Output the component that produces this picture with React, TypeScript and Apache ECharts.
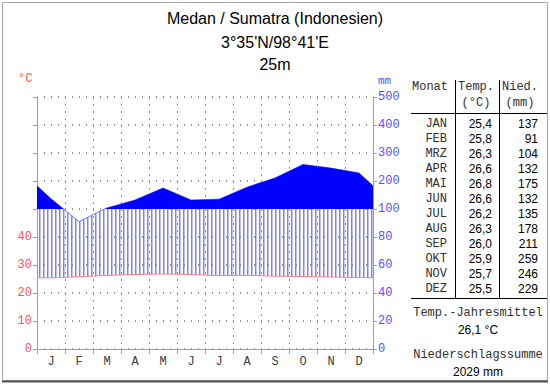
import React, { useEffect, useRef } from 'react';
import * as echarts from 'echarts';

const monthLetters = ['J', 'F', 'M', 'A', 'M', 'J', 'J', 'A', 'S', 'O', 'N', 'D'];
const monthNames = ['JAN', 'FEB', 'MRZ', 'APR', 'MAI', 'JUN', 'JUL', 'AUG', 'SEP', 'OKT', 'NOV', 'DEZ'];
const temperature = [25.4, 25.8, 26.3, 26.6, 26.8, 26.6, 26.2, 26.3, 26.0, 25.9, 25.7, 25.5];
const precipitation = [137, 91, 104, 132, 175, 132, 135, 178, 211, 259, 246, 229];
const titleLines = ['Medan / Sumatra (Indonesien)', "3°35'N/98°41'E", '25m'];
const annualMeanTemp = '26,1 °C';
const annualPrecip = '2029 mm';

const MONO = '"Liberation Mono", "DejaVu Sans Mono", monospace';
const SANS = '"Liberation Sans", Arial, sans-serif';
const HATCH = '#8080ff';

const mmToUnit = (p: number) => (p <= 100 ? p / 2 : 50 + (p - 100) / 10);
const unitToMm = (u: number) => (u <= 50 ? u * 2 : 100 + (u - 50) * 10);
const fmt = (v: number) => v.toFixed(1).replace('.', ',');

// points at month centres, wrapped to the plot edges (Dec/Jan average)
const edgeT = (temperature[11] + temperature[0]) / 2;
const edgeP = (mmToUnit(precipitation[11]) + mmToUnit(precipitation[0])) / 2;
const tempPts: number[][] = [[0, edgeT], ...temperature.map((t, i) => [i + 0.5, t]), [12, edgeT]];
const precPts: number[][] = [[0, edgeP], ...precipitation.map((p, i) => [i + 0.5, mmToUnit(p)]), [12, edgeP]];

function interp(pts: number[][], x: number): number {
  for (let i = 1; i < pts.length; i++) {
    const [x0, y0] = pts[i - 1];
    const [x1, y1] = pts[i];
    if (x >= x0 && x <= x1) {
      const t = (x - x0) / (x1 - x0);
      return y0 + t * (y1 - y0);
    }
  }
  return pts[pts.length - 1][1];
}

export default function App() {
  const ref = useRef<HTMLDivElement>(null);
  useEffect(() => {
    if (!ref.current) return;
    const chart = echarts.init(ref.current, undefined, { renderer: 'svg' });

    const renderItem = (params: any, api: any) => {
      const children: any[] = [];
      const base = 50;
      const p0 = api.coord([0, 0]);
      const p1 = api.coord([12, 0]);
      for (let px = Math.round(p0[0]) + 2; px < p1[0] - 0.5; px += 4) {
        const xv = ((px + 0.5 - p0[0]) / (p1[0] - p0[0])) * 12;
        const t = interp(tempPts, xv);
        const top = Math.min(interp(precPts, xv), base);
        if (top > t) {
          const a = api.coord([xv, t]);
          const b = api.coord([xv, top]);
          children.push({
            type: 'rect',
            shape: { x: px, y: b[1], width: 1.5, height: a[1] - b[1] },
            style: { fill: HATCH, stroke: null, lineWidth: 0, opacity: 1 },
          });
        }
      }
      const poly: number[][] = [];
      for (let i = 0; i < precPts.length; i++) {
        const [x, y] = precPts[i];
        if (i > 0) {
          const [x0, y0] = precPts[i - 1];
          if ((y0 - base) * (y - base) < 0) {
            const t = (base - y0) / (y - y0);
            poly.push([x0 + t * (x - x0), base]);
          }
        }
        poly.push([x, Math.max(y, base)]);
      }
      poly.push([12, base]);
      poly.push([0, base]);
      children.push({
        type: 'polygon',
        shape: { points: poly.map((p) => api.coord(p)) },
        style: { fill: '#0000ff', stroke: null, lineWidth: 0 },
      });
      return { type: 'group', children };
    };

    const graphic: any[] = [
      { type: 'rect', shape: { x: 2.5, y: 2.5, width: 545, height: 378 }, style: { fill: 'none', stroke: '#a8a8a8', lineWidth: 1 }, z: 10 },
      { type: 'line', shape: { x1: 2, y1: 381.5, x2: 548, y2: 381.5 }, style: { stroke: '#505050', lineWidth: 2 }, z: 10 },
    ];
    titleLines.forEach((t, i) => {
      graphic.push({
        type: 'text', x: 275, y: [18, 42, 64][i],
        style: { text: t, textAlign: 'center', textVerticalAlign: 'middle', font: `16px ${SANS}`, fill: '#000' },
      });
    });
    graphic.push({ type: 'text', x: 18, y: 79, style: { text: '°C', textVerticalAlign: 'middle', font: `12px ${MONO}`, fill: '#ff5050' } });
    graphic.push({ type: 'text', x: 378, y: 81, style: { text: 'mm', textVerticalAlign: 'middle', font: `11px ${MONO}`, fill: '#5050ff' } });
    const hdr = (text: string, x: number, y: number) => ({
      type: 'text', x, y, style: { text, textAlign: 'center', textVerticalAlign: 'middle', font: `12px ${MONO}`, fill: '#303030' },
    });
    graphic.push(hdr('Monat', 430, 87), hdr('Temp.', 476, 87), hdr('(°C)', 476, 103), hdr('Nied.', 520, 87), hdr('(mm)', 520, 103));
    graphic.push(
      { type: 'line', shape: { x1: 455.5, y1: 80, x2: 455.5, y2: 298 }, style: { stroke: '#000', lineWidth: 1 } },
      { type: 'line', shape: { x1: 499.5, y1: 80, x2: 499.5, y2: 298 }, style: { stroke: '#000', lineWidth: 1 } },
      { type: 'line', shape: { x1: 411, y1: 113.5, x2: 547, y2: 113.5 }, style: { stroke: '#000', lineWidth: 1 } },
      { type: 'line', shape: { x1: 411, y1: 298.5, x2: 547, y2: 298.5 }, style: { stroke: '#000', lineWidth: 1 } },
    );
    monthNames.forEach((m, i) => {
      const y = 124 + i * 15;
      graphic.push({ type: 'text', x: 447, y, style: { text: m, textAlign: 'right', textVerticalAlign: 'middle', font: `12px ${MONO}`, fill: '#303030' } });
      graphic.push({ type: 'text', x: 492, y, style: { text: fmt(temperature[i]), textAlign: 'right', textVerticalAlign: 'middle', font: `12px ${SANS}`, fill: '#000' } });
      graphic.push({ type: 'text', x: 538, y, style: { text: String(precipitation[i]), textAlign: 'right', textVerticalAlign: 'middle', font: `12px ${SANS}`, fill: '#000' } });
    });
    graphic.push(
      { type: 'text', x: 478, y: 313, style: { text: 'Temp.-Jahresmittel', textAlign: 'center', textVerticalAlign: 'middle', font: `12px ${MONO}`, fill: '#303030' } },
      { type: 'text', x: 478, y: 330, style: { text: annualMeanTemp, textAlign: 'center', textVerticalAlign: 'middle', font: `12px ${SANS}`, fill: '#000' } },
      { type: 'text', x: 478, y: 355, style: { text: 'Niederschlagssumme', textAlign: 'center', textVerticalAlign: 'middle', font: `12px ${MONO}`, fill: '#303030' } },
      { type: 'text', x: 478, y: 372, style: { text: annualPrecip, textAlign: 'center', textVerticalAlign: 'middle', font: `12px ${SANS}`, fill: '#000' } },
    );

    const axisGray = '#a0a0a0';
    chart.setOption({
      animation: false,
      backgroundColor: '#ffffff',
      grid: { left: 37, right: 177, top: 97, bottom: 35 },
      xAxis: [
        {
          type: 'category', data: monthLetters, boundaryGap: true,
          axisLine: { show: true, lineStyle: { color: axisGray } },
          axisTick: { show: true, interval: 0, length: 5, lineStyle: { color: axisGray } },
          axisLabel: { interval: 0, color: '#404040', fontFamily: MONO, fontSize: 12, margin: 7 },
          splitLine: { show: true, interval: 0, lineStyle: { color: '#909090', type: [2, 5] } },
        },
        { type: 'value', min: 0, max: 12, show: false },
      ],
      yAxis: [
        {
          type: 'value', min: 0, max: 90, interval: 10, position: 'left',
          axisLine: { show: true, lineStyle: { color: axisGray } },
          axisTick: { show: true, length: 4, lineStyle: { color: axisGray } },
          axisLabel: { color: '#ff5050', fontFamily: MONO, fontSize: 12, margin: 5, formatter: (v: number) => (v <= 40 ? String(v) : '') },
          splitLine: { show: true, lineStyle: { color: '#909090', type: [1, 6], width: 2 } },
        },
        {
          type: 'value', min: 0, max: 90, interval: 10, position: 'right',
          axisLine: { show: true, lineStyle: { color: axisGray } },
          axisTick: { show: true, length: 4, lineStyle: { color: axisGray } },
          axisLabel: { color: '#5050ff', fontFamily: MONO, fontSize: 12, margin: 5, formatter: (v: number) => String(unitToMm(v)) },
          splitLine: { show: false },
        },
      ],
      series: [
        {
          type: 'line', xAxisIndex: 1, yAxisIndex: 0, data: precPts, symbol: 'none', z: 1,
          lineStyle: { color: '#7070ff', width: 1 },
        },
        {
          type: 'custom', xAxisIndex: 1, yAxisIndex: 0, data: [[0, 0]], renderItem, z: 2, silent: true,
          itemStyle: { color: HATCH, borderColor: HATCH, borderWidth: 0 },
        },
        {
          type: 'line', xAxisIndex: 1, yAxisIndex: 0, data: tempPts, symbol: 'none', z: 3,
          lineStyle: { color: '#ff8080', width: 1 },
        },
      ],
      graphic,
    });
    return () => chart.dispose();
  }, []);
  return <div ref={ref} style={{ position: 'absolute', left: 0, top: 0, width: 550, height: 384 }} />;
}
